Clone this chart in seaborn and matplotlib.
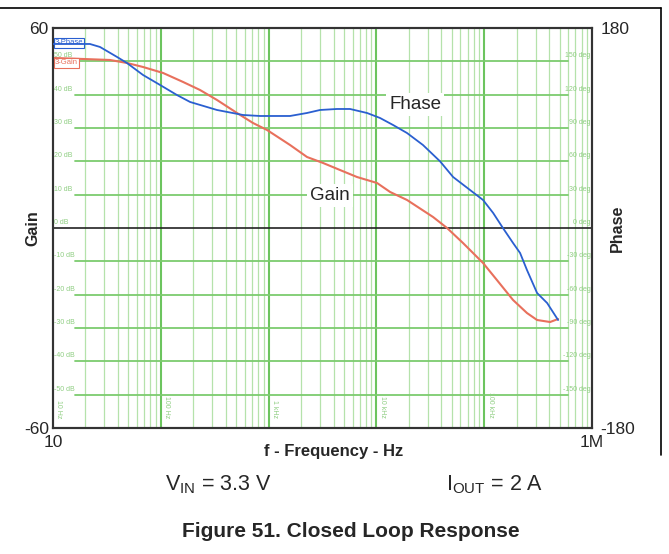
import numpy as np
import pandas as pd
import matplotlib.pyplot as plt
import seaborn as sns
from matplotlib.lines import Line2D

# Gain curve
freq_gain = [10, 19, 33.8, 48.5, 68.4, 105, 161, 231, 332, 509, 716, 967,
             1580, 2270, 3200, 4590, 6600, 10130, 13400, 19230, 33500, 45190,
             63500, 97500, 131000, 185000, 249000, 309000, 408000, 484000]
gain_db = [51, 50.7, 50.4, 49.5, 48.3, 46.5, 43.8, 41.4, 38.4, 34.5, 31.5, 29.4,
           24.9, 21.3, 19.5, 17.4, 15.3, 13.5, 10.8, 8.4, 3.3, 0,
           -4.5, -10.5, -15.6, -21.6, -25.5, -27.6, -28.2, -27.3]

# Phase curve
freq_phase = [10, 22, 27.3, 39.3, 48.5, 68.4, 98.5, 141, 187, 332, 579, 832,
              1580, 2270, 3000, 4300, 5690, 8180, 10800, 14260, 19200, 27000,
              38900, 51400, 73800, 97500, 121000, 149000, 185000, 215000,
              249000, 309000, 383000, 484000]
phase_deg = [165.6, 165.6, 162.9, 153.9, 148.5, 137.7, 128.7, 119.7, 113.4, 106.2,
             101.7, 100.8, 100.8, 103.5, 106.2, 107.1, 107.1, 103.5, 99, 92.7,
             85.5, 74.7, 60, 45.9, 34.2, 25.2, 13.5, 0, -13.5, -22.5,
             -37.8, -58.5, -67.5, -82.8]

db_grid = [50, 40, 30, 20, 10, 0, -10, -20, -30, -40, -50]
deg_grid = [150, 120, 90, 60, 30, 0, -30, -60, -90, -120, -150]
decade_labels = ['10 Hz', '100 Hz', '1 kHz', '10 kHz', '100 kHz']

df_gain = pd.DataFrame({'f': freq_gain, 'v': gain_db})
df_phase = pd.DataFrame({'f': freq_phase, 'v': phase_deg})

sns.set_style("white")
plt.rcParams['font.family'] = ['Liberation Sans', 'DejaVu Sans']

fig = plt.figure(figsize=(6.69, 5.54), dpi=100)
ax = fig.add_axes([0.0792, 0.2274, 0.8058, 0.7221])
ax2 = ax.twinx()

ax.set_xscale('log')
ax.set_xlim(10, 1e6)
ax.set_ylim(-60, 60)
ax2.set_ylim(-180, 180)

# green grid
for d in range(1, 6):
    for m in range(2, 10):
        ax.axvline(m * 10 ** d, color='#b5e2ab', lw=0.9, zorder=0)
    if d > 1:
        ax.axvline(10 ** d, color='#6cc45e', lw=1.5, zorder=0)
for v in db_grid:
    if v == 0:
        ax.axhline(0, color='#222222', lw=1.2, zorder=1)
    else:
        ax.axhline(v, xmin=0.04, xmax=0.955, color='#7ccb6e', lw=1.3, zorder=0)

# small inner labels
for v, dg in zip(db_grid, deg_grid):
    ax.text(10.3, v + 0.6, f'{v} dB', fontsize=5, color='#8fce82', ha='left', va='bottom')
    ax.text(0.97e6, v + 0.6, f'{dg} deg', fontsize=5, color='#8fce82', ha='right', va='bottom')
for d, lab in zip(range(1, 6), decade_labels):
    ax.text(10 ** d * 1.05, -57, lab, fontsize=5, color='#8fce82', rotation=270,
            ha='left', va='bottom')

sns.lineplot(data=df_gain, x='f', y='v', ax=ax, color='#e8705c', lw=1.5,
             estimator=None, zorder=3)
sns.lineplot(data=df_phase, x='f', y='v', ax=ax2, color='#2a5fd0', lw=1.3,
             estimator=None, zorder=3)

ax.text(10.4, 55.5, '3-Phase', fontsize=5.5, color='#2a5fd0', va='center',
        bbox=dict(boxstyle='square,pad=0.15', fc='white', ec='#2a5fd0', lw=0.8))
ax.text(10.4, 49.5, '3-Gain', fontsize=5.5, color='#e8705c', va='center',
        bbox=dict(boxstyle='square,pad=0.15', fc='white', ec='#e8705c', lw=0.8))

ax.text(22800, 37, 'Fhase', fontsize=13.5, ha='center', va='center',
        bbox=dict(fc='white', ec='none', pad=2), zorder=4)
ax.text(3720, 9.8, 'Gain', fontsize=13.5, ha='center', va='center',
        bbox=dict(fc='white', ec='none', pad=2), zorder=4)

ax.set_xticks([10, 1e6])
ax.set_xticklabels(['10', '1M'])
ax.minorticks_off()
ax.set_yticks([-60, 60])
ax.set_yticklabels(['-60', '60'])
ax2.set_yticks([-180, 180])
ax2.set_yticklabels(['-180', '180'])
ax.tick_params(length=0, labelsize=12.5, pad=3)
ax2.tick_params(length=0, labelsize=12.5, pad=6)
ax.tick_params(axis='x', which='both', length=0, pad=5)

ax.set_xlabel('f - Frequency - Hz', fontsize=12, fontweight='bold')
ax.xaxis.set_label_coords(0.52, -0.04)
ax.set_ylabel('Gain', fontsize=11.5, fontweight='bold', labelpad=-12)
ax2.set_ylabel('Phase', fontsize=11.5, fontweight='bold', labelpad=-18)

for a in (ax, ax2):
    for s in a.spines.values():
        s.set_color('#333333')
        s.set_linewidth(1.5)

fig.text(0.327, 0.1155, r'V$_{\mathregular{IN}}$ = 3.3 V', fontsize=15.5, ha='center')
fig.text(0.74, 0.1155, r'I$_{\mathregular{OUT}}$ = 2 A', fontsize=15.5, ha='center')
fig.text(0.525, 0.031, 'Figure 51. Closed Loop Response', fontsize=15,
         fontweight='bold', ha='center')

fig.add_artist(Line2D([0, 0.988], [0.985, 0.985], color='black', lw=1.2))
fig.add_artist(Line2D([0.988, 0.988], [0.985, 0.178], color='black', lw=1.2))

fig.savefig('out.png', dpi=100)
